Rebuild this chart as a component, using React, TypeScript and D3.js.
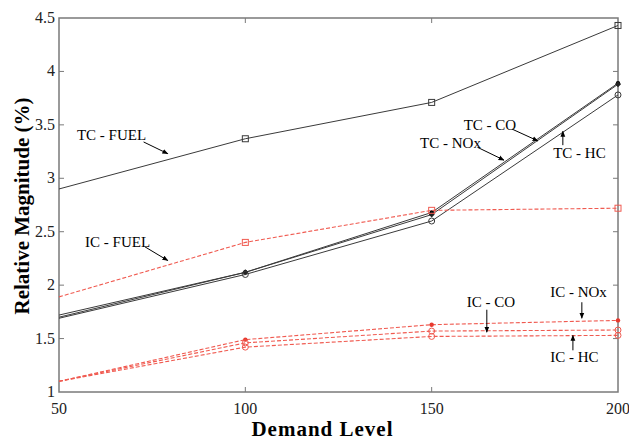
import React, { useEffect, useRef } from 'react';
import * as d3 from 'd3';

const demand = [50, 100, 150, 200];
const xTicks = [50, 100, 150, 200];
const yTicks = [1, 1.5, 2, 2.5, 3, 3.5, 4, 4.5];

const tcFuel = [2.9, 3.37, 3.71, 4.43];
const tcCo = [1.72, 2.12, 2.68, 3.89];
const tcNox = [1.7, 2.12, 2.66, 3.88];
const tcHc = [1.69, 2.1, 2.6, 3.78];
const icFuel = [1.89, 2.4, 2.7, 2.72];
const icNox = [1.1, 1.49, 1.63, 1.67];
const icCo = [1.1, 1.46, 1.57, 1.58];
const icHc = [1.1, 1.42, 1.52, 1.53];

const series = [
  { name: 'TC - FUEL', values: tcFuel, kind: 'tc', marker: 'square' },
  { name: 'TC - CO', values: tcCo, kind: 'tc', marker: 'dot' },
  { name: 'TC - NOx', values: tcNox, kind: 'tc', marker: 'diamond' },
  { name: 'TC - HC', values: tcHc, kind: 'tc', marker: 'circle' },
  { name: 'IC - FUEL', values: icFuel, kind: 'ic', marker: 'square' },
  { name: 'IC - NOx', values: icNox, kind: 'ic', marker: 'dot' },
  { name: 'IC - CO', values: icCo, kind: 'ic', marker: 'circle' },
  { name: 'IC - HC', values: icHc, kind: 'ic', marker: 'circle' },
];

// label text position and arrow (from -> to), in data units
const notes = [
  { text: 'TC - FUEL', tx: 54.8, ty: 3.36, ax: [72.7, 3.34], ah: [79.2, 3.23] },
  { text: 'IC - FUEL', tx: 57.0, ty: 2.36, ax: [73.0, 2.36], ah: [79.2, 2.23] },
  { text: 'TC - CO', tx: 158.6, ty: 3.45, ax: [171.6, 3.46], ah: [178.5, 3.35] },
  { text: 'TC - NOx', tx: 146.9, ty: 3.28, ax: [162.3, 3.29], ah: [169.4, 3.17] },
  { text: 'TC - HC', tx: 182.6, ty: 3.19, ax: [185.2, 3.31], ah: [185.2, 3.44] },
  { text: 'IC - CO', tx: 159.4, ty: 1.80, ax: [164.8, 1.77], ah: [164.8, 1.56] },
  { text: 'IC - NOx', tx: 181.8, ty: 1.89, ax: [190.3, 1.84], ah: [190.3, 1.69] },
  { text: 'IC - HC', tx: 181.8, ty: 1.28, ax: [187.9, 1.39], ah: [187.9, 1.53] },
];

function Chart({ width = 629, height = 443 }) {
  const ref = useRef(null);

  useEffect(() => {
    const svg = d3.select(ref.current);
    svg.selectAll('*').remove();

    const margin = { top: 18, right: 11, bottom: 51, left: 59 };
    const w = width - margin.left - margin.right;
    const h = height - margin.top - margin.bottom;

    const x = d3.scaleLinear().domain([50, 200]).range([0, w]);
    const y = d3.scaleLinear().domain([1, 4.5]).range([h, 0]);

    svg.attr('width', width).attr('height', height);
    svg.append('rect').attr('width', width).attr('height', height).attr('fill', '#fff');

    const defs = svg.append('defs');
    defs.append('marker')
      .attr('id', 'arrow')
      .attr('viewBox', '0 0 10 10')
      .attr('refX', 9).attr('refY', 5)
      .attr('markerWidth', 6).attr('markerHeight', 6)
      .attr('markerUnits', 'userSpaceOnUse')
      .attr('orient', 'auto')
      .append('path').attr('d', 'M0,1L10,5L0,9Z').attr('fill', '#000');

    const g = svg.append('g').attr('transform', `translate(${margin.left},${margin.top})`);

    const axisColor = '#7a7a7a';
    const tick = 5;

    // box
    g.append('rect')
      .attr('width', w).attr('height', h)
      .attr('fill', 'none').attr('stroke', axisColor).attr('stroke-width', 1.5);

    // inward ticks
    xTicks.slice(1, -1).forEach(t => {
      g.append('line').attr('x1', x(t)).attr('x2', x(t)).attr('y1', h).attr('y2', h - tick).attr('stroke', axisColor);
      g.append('line').attr('x1', x(t)).attr('x2', x(t)).attr('y1', 0).attr('y2', tick).attr('stroke', axisColor);
    });
    yTicks.slice(1, -1).forEach(t => {
      g.append('line').attr('x1', 0).attr('x2', tick).attr('y1', y(t)).attr('y2', y(t)).attr('stroke', axisColor);
      g.append('line').attr('x1', w).attr('x2', w - tick).attr('y1', y(t)).attr('y2', y(t)).attr('stroke', axisColor);
    });

    const font = '"Liberation Serif", "Times New Roman", serif';

    g.selectAll('.xt').data(xTicks).enter().append('text')
      .attr('x', d => x(d)).attr('y', h + 22)
      .attr('text-anchor', 'middle')
      .attr('font-family', font).attr('font-size', 16).attr('fill', '#222')
      .text(d => d);

    g.selectAll('.yt').data(yTicks).enter().append('text')
      .attr('x', -4).attr('y', d => y(d) + 5)
      .attr('text-anchor', 'end')
      .attr('font-family', font).attr('font-size', 16).attr('fill', '#222')
      .text(d => d);

    const line = d3.line().x((d, i) => x(demand[i])).y(d => y(d));

    series.forEach(s => {
      const color = s.kind === 'tc' ? '#3a3a3a' : '#f05a50';
      g.append('path')
        .datum(s.values)
        .attr('d', line)
        .attr('fill', 'none')
        .attr('stroke', color)
        .attr('stroke-width', s.kind === 'tc' ? 1 : 1.1)
        .attr('stroke-dasharray', s.kind === 'ic' ? '4,2' : null);

      const pts = g.selectAll(null).data(s.values.slice(1)).enter();
      if (s.marker === 'square') {
        pts.append('rect')
          .attr('x', (d, i) => x(demand[i + 1]) - 3).attr('y', d => y(d) - 3)
          .attr('width', 6).attr('height', 6)
          .attr('fill', 'none').attr('stroke', color).attr('stroke-width', 1);
      } else if (s.marker === 'dot') {
        pts.append('circle')
          .attr('cx', (d, i) => x(demand[i + 1])).attr('cy', d => y(d)).attr('r', 2.2)
          .attr('fill', s.kind === 'tc' ? '#000' : '#e8392e');
      } else if (s.marker === 'diamond') {
        pts.append('path')
          .attr('transform', (d, i) => `translate(${x(demand[i + 1])},${y(d)})`)
          .attr('d', 'M0,-3L3,0L0,3L-3,0Z')
          .attr('fill', '#222');
      } else {
        pts.append('circle')
          .attr('cx', (d, i) => x(demand[i + 1])).attr('cy', d => y(d)).attr('r', 3)
          .attr('fill', 'none').attr('stroke', color).attr('stroke-width', 1);
      }
    });

    // annotations
    notes.forEach(n => {
      g.append('text')
        .attr('x', x(n.tx)).attr('y', y(n.ty))
        .attr('font-family', font).attr('font-size', 15).attr('fill', '#000')
        .text(n.text);
      g.append('line')
        .attr('x1', x(n.ax[0])).attr('y1', y(n.ax[1]))
        .attr('x2', x(n.ah[0])).attr('y2', y(n.ah[1]))
        .attr('stroke', '#000').attr('stroke-width', 1)
        .attr('marker-end', 'url(#arrow)');
    });

    svg.append('text')
      .attr('text-anchor', 'middle')
      .attr('x', margin.left + w / 2 - 16)
      .attr('y', height - 7)
      .attr('font-family', font).attr('font-weight', 'bold').attr('font-size', 21)
      .attr('letter-spacing', 1)
      .text('Demand Level');

    svg.append('text')
      .attr('text-anchor', 'middle')
      .attr('transform', `translate(29,${206}) rotate(-90)`)
      .attr('font-family', font).attr('font-weight', 'bold').attr('font-size', 21)
      .text('Relative Magnitude (%)');
  }, [width, height]);

  return <svg ref={ref} style={{ position: 'absolute', left: 0, top: 0 }}></svg>;
}

export default function App() {
  return <Chart />;
}
